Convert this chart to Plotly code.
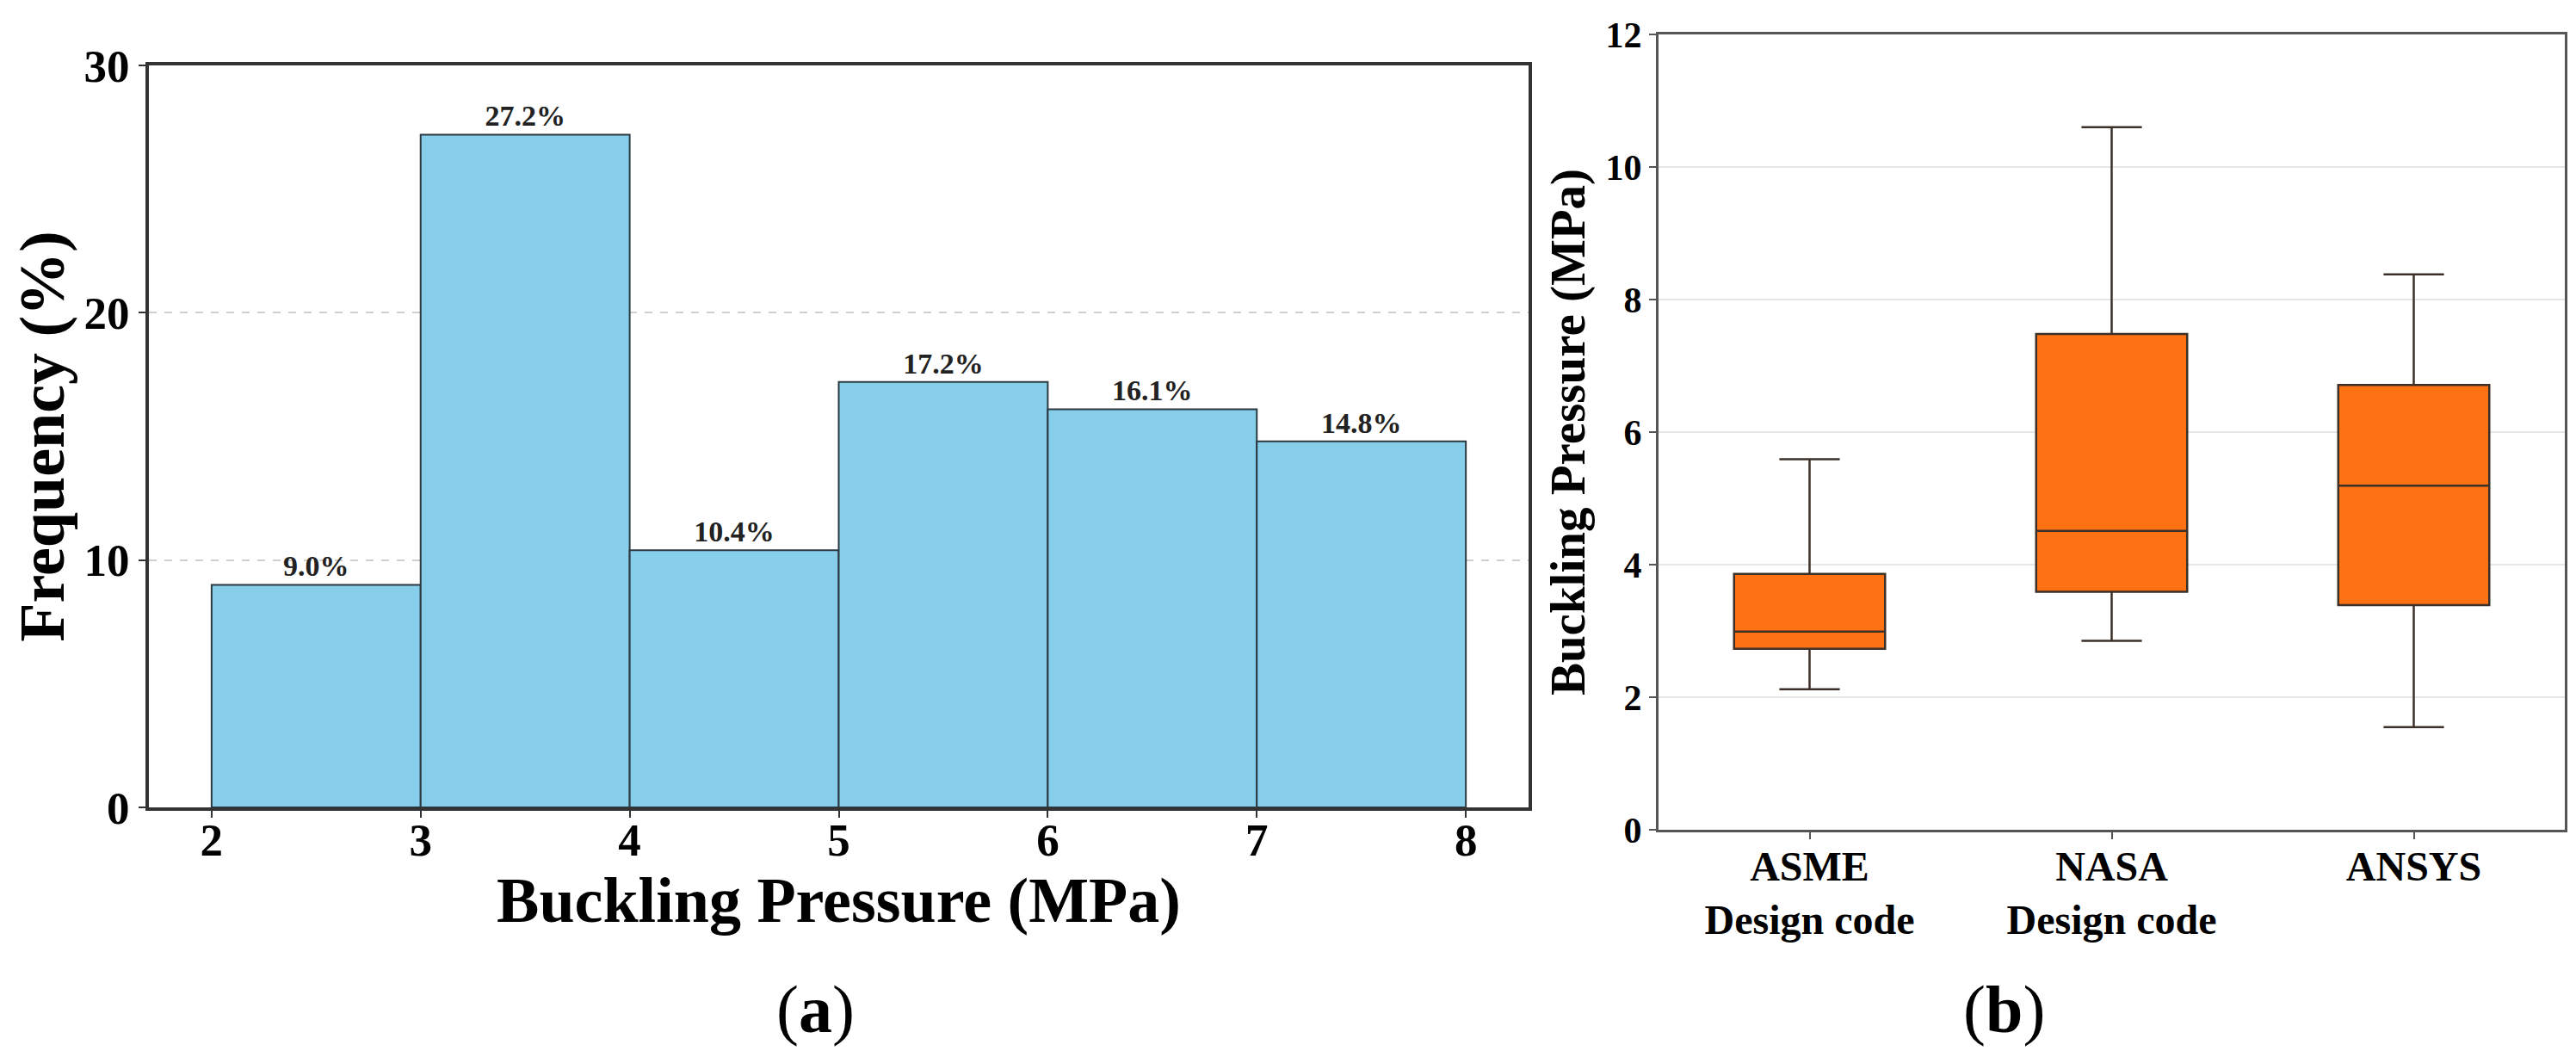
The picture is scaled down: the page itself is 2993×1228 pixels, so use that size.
import plotly.graph_objects as go

# (a) histogram of buckling pressure
bin_edges = [2, 3, 4, 5, 6, 7, 8]
freq_pct = [9.0, 27.2, 10.4, 17.2, 16.1, 14.8]

# (b) box plot summary per method
methods = ["ASME<br>Design code", "NASA<br>Design code", "ANSYS"]
whisker_low = [2.12, 2.85, 1.55]
q1 = [2.73, 3.59, 3.39]
median = [2.99, 4.51, 5.19]
q3 = [3.86, 7.48, 6.71]
whisker_high = [5.59, 10.6, 8.38]

W, H = 2993, 1228
serif = "Liberation Serif"

bin_centers = [(a + b) / 2 for a, b in zip(bin_edges[:-1], bin_edges[1:])]
bin_widths = [b - a for a, b in zip(bin_edges[:-1], bin_edges[1:])]

fig = go.Figure()

fig.add_trace(go.Bar(
    x=bin_centers, y=freq_pct, width=bin_widths,
    marker=dict(color="#87CEEB", line=dict(color="#2b3940", width=2)),
    texttemplate="%{y:.1f}%", textposition="outside", constraintext="none",
    textfont=dict(family=serif, size=34, color="#222", weight="bold"),
    cliponaxis=False, showlegend=False,
    xaxis="x", yaxis="y"))

fig.add_trace(go.Box(
    x=methods, q1=q1, median=median, q3=q3,
    lowerfence=whisker_low, upperfence=whisker_high,
    width=0.5, whiskerwidth=0.4, boxpoints=False,
    fillcolor="#FF7214", line=dict(color="#3d3028", width=2.5),
    showlegend=False, xaxis="x2", yaxis="y2"))

frame = dict(showline=True, mirror=True, ticks="outside", ticklen=8, tickwidth=2,
             automargin=False)

fig.update_layout(
    width=W, height=H,
    margin=dict(l=0, r=0, t=0, b=0),
    paper_bgcolor="white", plot_bgcolor="white",
    font=dict(family=serif, color="black"),
    xaxis=dict(
        domain=[165 / W, 1768 / W], range=[1.7, 8.3], tick0=2, dtick=1,
        showgrid=False, zeroline=False, linecolor="#333", linewidth=4, tickcolor="#333",
        tickfont=dict(size=53, weight="bold"), ticklabelstandoff=-20,
        title=dict(text="Buckling Pressure (MPa)", standoff=2,
                   font=dict(size=74, weight="bold")),
        **frame),
    yaxis=dict(
        domain=[1 - 930 / H, 1 - 68 / H], range=[0, 30], dtick=10,
        showgrid=True, gridcolor="#cfcfcf", gridwidth=2, griddash="dash", zeroline=False,
        linecolor="#333", linewidth=4, tickcolor="#333",
        tickfont=dict(size=53, weight="bold"),
        title=dict(text="Frequency (%)", standoff=14,
                   font=dict(size=74, weight="bold")),
        **frame),
    xaxis2=dict(
        domain=[1919 / W, 2972 / W], anchor="y2", range=[-0.5, 2.5],
        showgrid=False, zeroline=False, linecolor="#555", linewidth=3, tickcolor="#555",
        tickfont=dict(size=48, weight="bold"), ticklabelstandoff=-10,
        **frame),
    yaxis2=dict(
        domain=[1 - 956 / H, 1 - 32 / H], anchor="x2", range=[0, 12], dtick=2,
        showgrid=True, gridcolor="#e6e6e6", gridwidth=2, zeroline=False,
        linecolor="#555", linewidth=3, tickcolor="#555",
        tickfont=dict(size=42, weight="bold"),
        title=dict(text="Buckling Pressure (MPa)", standoff=6,
                   font=dict(size=57, weight="bold")),
        **frame),
    annotations=[
        dict(text="(<b>a</b>)", x=892 / W, y=1 - 1210 / H, xref="paper", yref="paper",
             showarrow=False, font=dict(family=serif, size=78, color="black")),
        dict(text="(<b>b</b>)", x=2370 / W, y=1 - 1210 / H, xref="paper", yref="paper",
             showarrow=False, font=dict(family=serif, size=78, color="black")),
    ],
)

fig.write_html("out.html")
